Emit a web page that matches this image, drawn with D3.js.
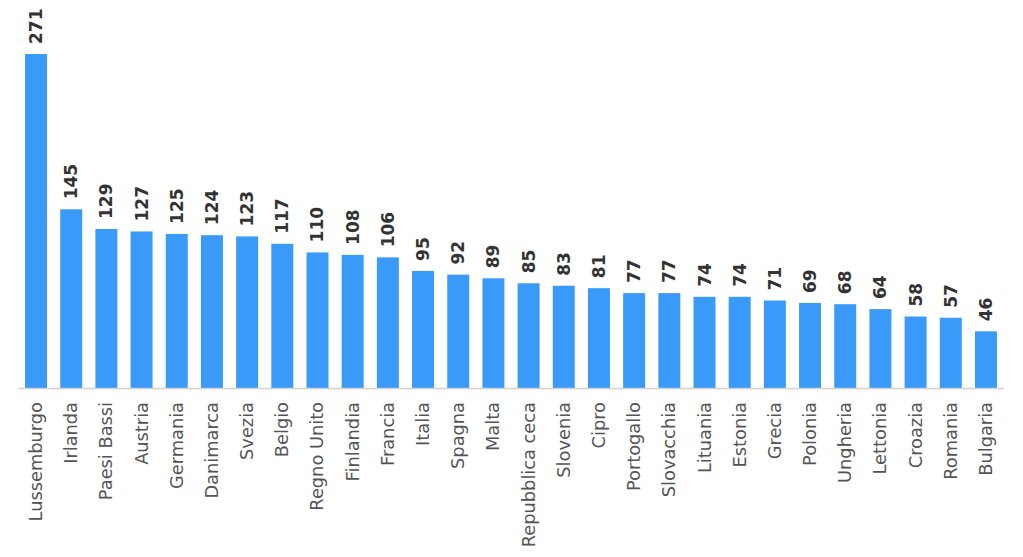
<!DOCTYPE html>
<html><head><meta charset="utf-8">
<script src="https://cdn.jsdelivr.net/npm/d3@7"></script>
<style>body{margin:0;background:#fff}svg{display:block}</style>
</head><body>
<svg id="c" width="1023" height="557"></svg>
<script>
const categories = ["Lussemburgo","Irlanda","Paesi Bassi","Austria","Germania","Danimarca","Svezia","Belgio","Regno Unito","Finlandia","Francia","Italia","Spagna","Malta","Repubblica ceca","Slovenia","Cipro","Portogallo","Slovacchia","Lituania","Estonia","Grecia","Polonia","Ungheria","Lettonia","Croazia","Romania","Bulgaria"];
const values = [271,145,129,127,125,124,123,117,110,108,106,95,92,89,85,83,81,77,77,74,74,71,69,68,64,58,57,46];

const svg = d3.select("#c");
const x = d3.scaleBand().domain(categories).range([18, 1004]).paddingInner(0.375).paddingOuter(0.2);
const y = d3.scaleLinear().domain([0, 271]).range([388, 54]);

svg.append("g").selectAll("rect").data(values).join("rect")
  .attr("x", (d,i) => x(categories[i]))
  .attr("y", d => y(d))
  .attr("width", x.bandwidth())
  .attr("height", d => y(0) - y(d))
  .attr("fill", "#3a9afa");

svg.append("line").attr("x1", 18).attr("x2", 1004).attr("y1", 388.5).attr("y2", 388.5)
  .attr("stroke", "#d6d0cc").attr("stroke-width", 1.5);

svg.append("g").selectAll("text").data(values).join("text")
  .attr("transform", (d,i) => `translate(${x(categories[i]) + x.bandwidth()/2 + 6},${y(d) - 10}) rotate(-90)`)
  .attr("font-family", "DejaVu Sans").attr("font-weight", "bold").attr("font-size", 17)
  .attr("fill", "#333").text(d => d);

svg.append("g").selectAll("text").data(categories).join("text")
  .attr("transform", d => `translate(${x(d) + x.bandwidth()/2 + 6},${402}) rotate(-90)`)
  .attr("text-anchor", "end")
  .attr("font-family", "DejaVu Sans").attr("font-size", 17.8)
  .attr("fill", "#555").text(d => d);
</script>
</body></html>
